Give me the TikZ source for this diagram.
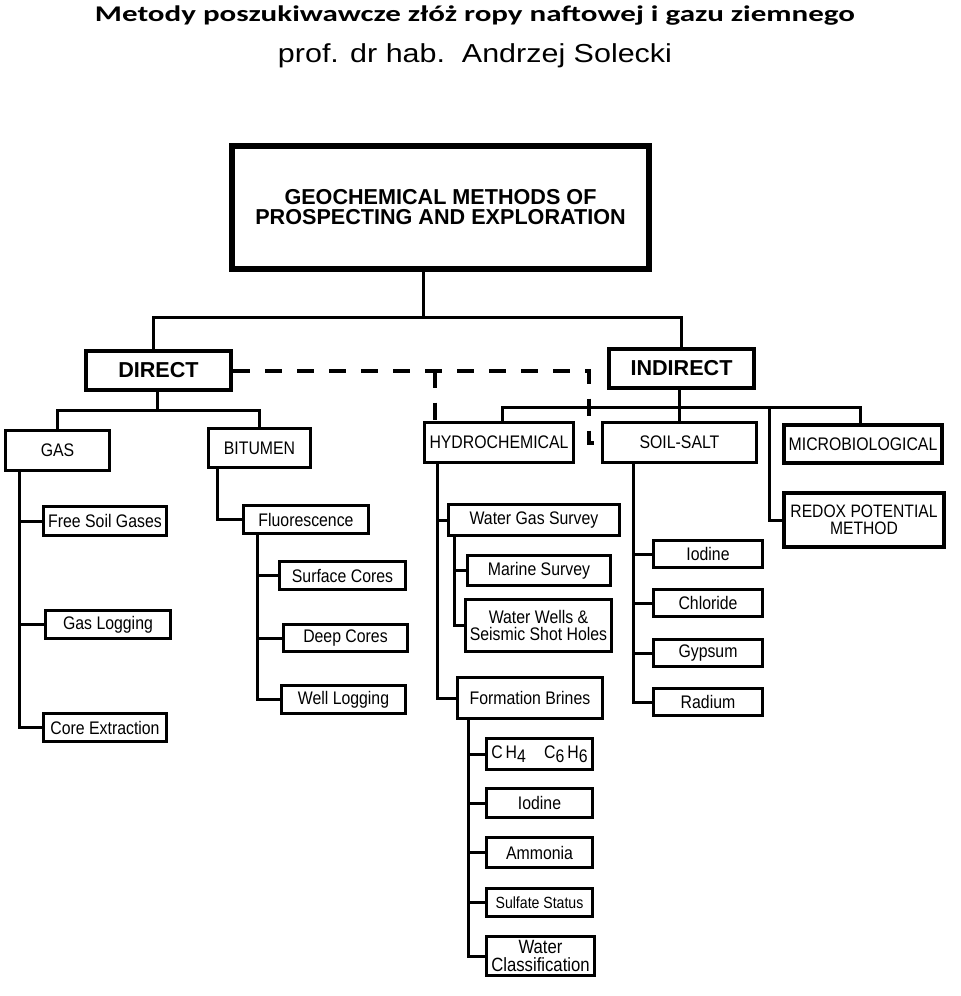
\documentclass[tikz,border=0pt]{standalone}
\usepackage{fontspec}
\setmainfont{Liberation Sans}[FakeStretch=0.87]
\newfontfamily\headfont{Liberation Sans}
\newfontfamily\titlefont{Carlito}
\usetikzlibrary{calc}

\newcommand\lowidx[1]{\raisebox{-0.45ex}{#1}}

\tikzset{
  box/.style={draw, line width=1.7pt, inner sep=0pt, align=center, font=\fontsize{9.1}{9}\selectfont},
  head/.style={box, line width=2pt, font=\headfont\fontsize{10.8}{10}\selectfont\bfseries},
  sized/.style 2 args={minimum width=#1*0.5pt, minimum height=#2*0.5pt},
  link/.style={line width=1.5pt},
  dashlink/.style={line width=2pt, dash pattern=on 8.5pt off 7.5pt},
}

\begin{document}
\begin{tikzpicture}[x=0.5pt, y=-0.5pt]
    \useasboundingbox (0,0) rectangle (960,996);

    % Heading
    \node[anchor=base] (title) at (475,21) {\resizebox{380pt}{\height}{\titlefont\bfseries\fontsize{11.2}{12}\selectfont Metody poszukiwawcze złóż ropy naftowej i gazu ziemnego}};
    \node[anchor=base] (author) at (475,62) {\resizebox{197pt}{\height}{\headfont\fontsize{13}{14}\selectfont prof. dr hab.\ \ Andrzej Solecki}};

    % Top levels
    \node[head, line width=3pt, sized={417}{123}] (main) at (440.5,207.5) {GEOCHEMICAL METHODS OF\\PROSPECTING AND EXPLORATION};
    \node[head, sized={145}{39}] (direct) at (158.5,370.5) {DIRECT};
    \node[head, sized={145}{39}] (indirect) at (681.5,368.5) {INDIRECT};

    % Direct methods
    \node[box, sized={104}{40}] (gas) at (57.5,450.5) {GAS};
    \node[box, sized={102}{39}] (bitumen) at (259.5,448) {BITUMEN};
    \node[box, sized={123}{29}] (freesoil) at (105,521) {Free Soil Gases};
    \node[box, sized={125}{28}] (gaslog) at (108,624.5) {Gas Logging};
    \node[box, sized={123}{28}] (coreext) at (105,727.5) {Core Extraction};
    \node[box, sized={125}{28}] (fluor) at (306,519.5) {Fluorescence};
    \node[box, sized={126}{28}] (surface) at (342.5,575.5) {Surface Cores};
    \node[box, sized={124}{27}] (deep) at (345.5,638) {Deep Cores};
    \node[box, sized={124}{28}] (welllog) at (343.5,699.5) {Well Logging};

    % Indirect methods
    \node[box, sized={149}{40}] (hydro) at (499,442.5) {HYDROCHEMICAL};
    \node[box, sized={154}{40}] (soil) at (679.5,442.5) {SOIL-SALT};
    \node[box, line width=2pt, sized={158}{38}] (micro) at (863,444) {MICROBIOLOGICAL};
    \node[box, line width=2pt, sized={160}{54}, font=\fontsize{9}{8.3}\selectfont] (redox) at (864,520) {REDOX POTENTIAL\\METHOD};
    \node[box, sized={171}{31}] (watergas) at (534,520) {Water Gas Survey};
    \node[box, sized={143}{30}] (marine) at (539,570.5) {Marine Survey};
    \node[box, sized={146}{52}, font=\fontsize{9.1}{8.3}\selectfont] (wells) at (538.5,625.5) {Water Wells \&\\Seismic Shot Holes};
    \node[box, sized={145}{41}] (brines) at (530,698) {Formation Brines};
    \node[box, sized={106}{31}] (hydrocarb) at (539.5,754) {C\,H\lowidx{4}\quad C\lowidx{6}\,H\lowidx{6}};
    \node[box, sized={106}{29}] (iodineb) at (539.5,803) {Iodine};
    \node[box, sized={106}{30}] (ammonia) at (539.5,852.5) {Ammonia};
    \node[box, sized={106}{28}, font=\fontsize{8.1}{8}\selectfont] (sulfate) at (539.5,902.5) {Sulfate Status};
    \node[box, sized={108}{39}, font=\fontsize{9.6}{9}\selectfont] (watercl) at (540.5,956) {Water\\Classification};
    \node[box, sized={109}{27}] (iodinea) at (708,554) {Iodine};
    \node[box, sized={109}{27}] (chloride) at (708,603) {Chloride};
    \node[box, sized={109}{27}] (gypsum) at (708,653) {Gypsum};
    \node[box, sized={109}{27}] (radium) at (708,702) {Radium};

    % Tree connectors
    \coordinate (topbus) at (423,317);
    \draw[link] (main.south -| topbus) -- (topbus);
    \draw[link] (direct.north -| 153,0) |- (topbus) -| (indirect.north);

    \coordinate (dirbus) at (157,410);
    \draw[link] (direct.south -| dirbus) -- (dirbus);
    \draw[link] (gas.north) |- (dirbus) -| (bitumen.north);

    \coordinate (indbus) at (679,407);
    \draw[link] (indirect.south -| indbus) -- (soil.north -| indbus);
    \draw[link] (hydro.north -| 502,0) |- (indbus) -| (micro.north -| 860,0);
    \draw[link] (indbus -| 769,0) |- (redox.west);

    % Spines
    \draw[link] (gas.south -| 19,0) |- (coreext.west);
    \foreach \n in {freesoil, gaslog} \draw[link] (\n.west -| 19,0) -- (\n.west);
    \draw[link] (bitumen.south -| 217,0) |- (fluor.west);
    \draw[link] (fluor.south -| 257,0) |- (welllog.west);
    \foreach \n in {surface, deep} \draw[link] (\n.west -| 257,0) -- (\n.west);
    \draw[link] (hydro.south -| 437,0) |- (brines.west);
    \draw[link] (watergas.west -| 437,0) -- (watergas.west);
    \draw[link] (watergas.south -| 454,0) |- (wells.west);
    \draw[link] (marine.west -| 454,0) -- (marine.west);
    \draw[link] (brines.south -| 468,0) |- (watercl.west);
    \foreach \n in {hydrocarb, iodineb, ammonia, sulfate} \draw[link] (\n.west -| 468,0) -- (\n.west);
    \draw[link] (soil.south -| 633,0) |- (radium.west);
    \foreach \n in {iodinea, chloride, gypsum} \draw[link] (\n.west -| 633,0) -- (\n.west);

    % Dashed cross links
    \coordinate (dashbend) at (589,0);
    \draw[dashlink] (direct.east) -| (soil.west -| dashbend) -- (soil.west);
    \draw[dashlink] (direct.east -| 435,0) -- (hydro.north -| 435,0);
\end{tikzpicture}
\end{document}
